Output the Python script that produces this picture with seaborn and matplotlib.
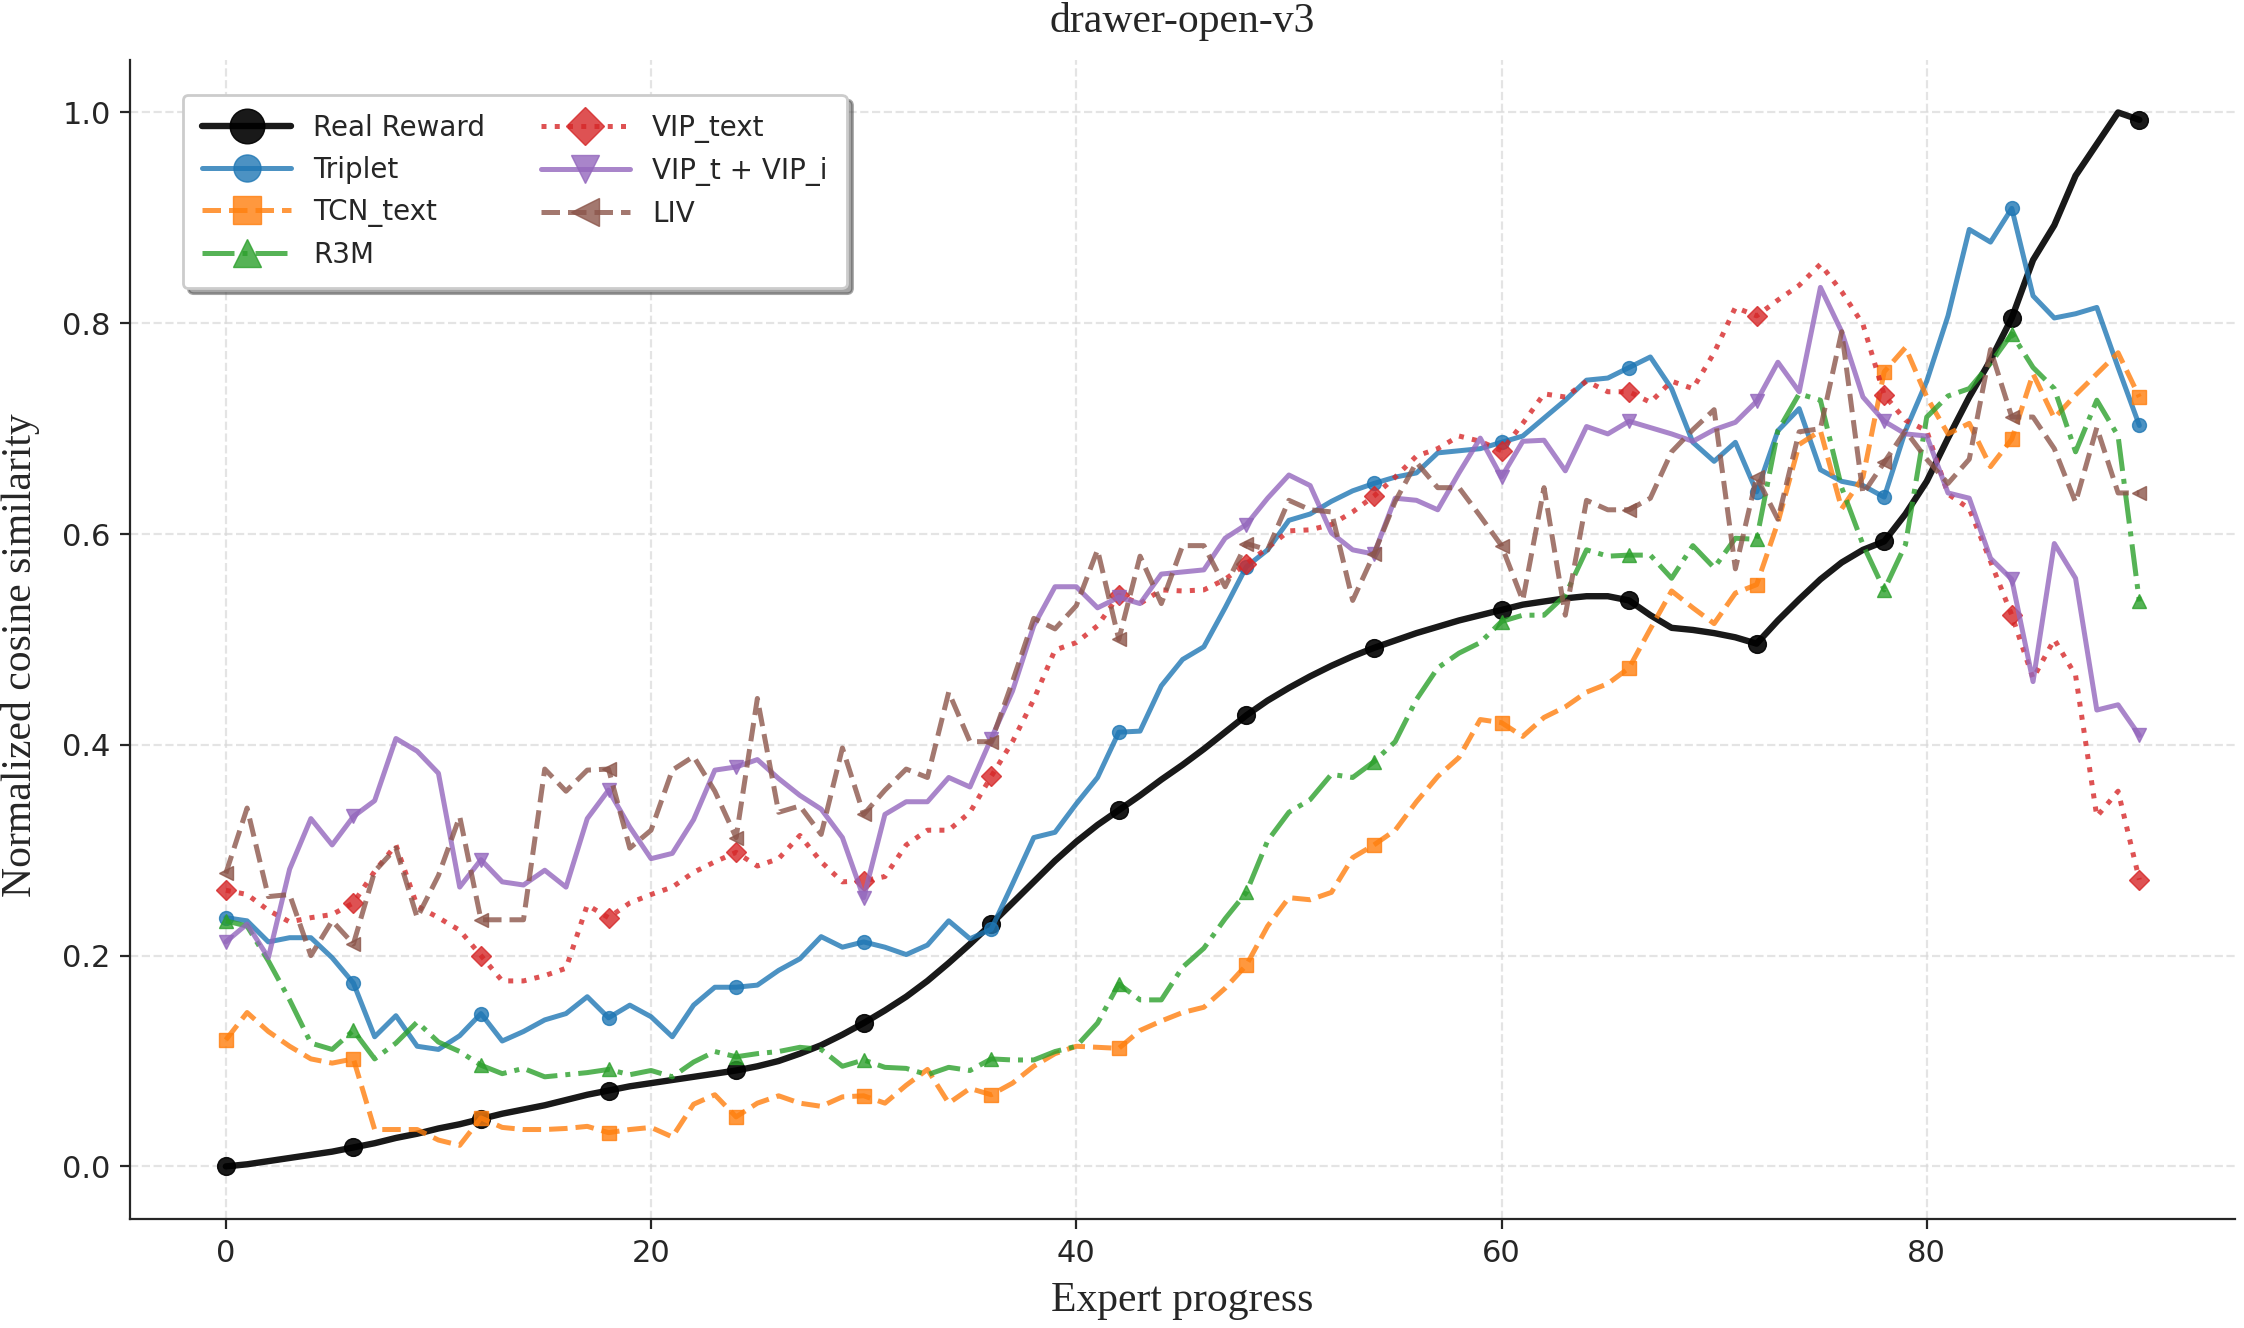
import numpy as np
import pandas as pd
import matplotlib
matplotlib.use("Agg")
import matplotlib.pyplot as plt
import seaborn as sns

# expert progress steps
progress = list(range(91))

real_reward = [
    0.000, 0.002, 0.005, 0.008, 0.011, 0.014, 0.018, 0.022, 0.027, 0.031,
    0.036, 0.040, 0.045, 0.050, 0.054, 0.058, 0.063, 0.068, 0.072, 0.076,
    0.079, 0.082, 0.085, 0.088, 0.091, 0.095, 0.100, 0.107, 0.115, 0.125,
    0.136, 0.148, 0.161, 0.176, 0.193, 0.211, 0.230, 0.250, 0.270, 0.290,
    0.308, 0.324, 0.338, 0.352, 0.367, 0.381, 0.396, 0.412, 0.428, 0.442,
    0.454, 0.465, 0.475, 0.484, 0.492, 0.499, 0.506, 0.512, 0.518, 0.523,
    0.528, 0.533, 0.536, 0.539, 0.541, 0.541, 0.537, 0.523, 0.511, 0.509,
    0.506, 0.502, 0.496, 0.518, 0.538, 0.557, 0.573, 0.585, 0.593, 0.619,
    0.650, 0.691, 0.730, 0.765, 0.805, 0.860, 0.893, 0.940, 0.970, 1.000,
    0.993,
]

triplet = [
    0.236, 0.233, 0.213, 0.217, 0.217, 0.198, 0.174, 0.123, 0.143, 0.114,
    0.111, 0.124, 0.145, 0.119, 0.128, 0.139, 0.145, 0.161, 0.141, 0.153,
    0.142, 0.123, 0.153, 0.170, 0.170, 0.172, 0.186, 0.197, 0.218, 0.208,
    0.213, 0.208, 0.201, 0.210, 0.233, 0.216, 0.225, 0.268, 0.312, 0.317,
    0.344, 0.369, 0.412, 0.413, 0.456, 0.481, 0.493, 0.530, 0.569, 0.585,
    0.613, 0.619, 0.631, 0.641, 0.648, 0.654, 0.658, 0.677, 0.679, 0.681,
    0.687, 0.693, 0.710, 0.727, 0.746, 0.748, 0.758, 0.768, 0.738, 0.687,
    0.669, 0.687, 0.640, 0.698, 0.719, 0.661, 0.650, 0.646, 0.635, 0.698,
    0.745, 0.807, 0.889, 0.877, 0.909, 0.826, 0.805, 0.809, 0.815, 0.758,
    0.703,
]

tcn_text = [
    0.120, 0.146, 0.128, 0.114, 0.102, 0.098, 0.102, 0.035, 0.035, 0.035,
    0.025, 0.020, 0.046, 0.037, 0.035, 0.035, 0.036, 0.038, 0.032, 0.035,
    0.037, 0.028, 0.059, 0.068, 0.047, 0.060, 0.067, 0.060, 0.057, 0.066,
    0.067, 0.060, 0.077, 0.092, 0.060, 0.074, 0.068, 0.079, 0.095, 0.107,
    0.114, 0.113, 0.112, 0.129, 0.138, 0.146, 0.151, 0.169, 0.191, 0.228,
    0.255, 0.253, 0.260, 0.293, 0.305, 0.319, 0.346, 0.370, 0.388, 0.424,
    0.421, 0.408, 0.426, 0.436, 0.450, 0.458, 0.473, 0.510, 0.546, 0.530,
    0.515, 0.544, 0.552, 0.611, 0.685, 0.698, 0.624, 0.654, 0.754, 0.777,
    0.730, 0.695, 0.705, 0.664, 0.690, 0.752, 0.710, 0.732, 0.752, 0.772,
    0.730,
]

r3m = [
    0.233, 0.228, 0.195, 0.158, 0.117, 0.111, 0.129, 0.102, 0.117, 0.137,
    0.118, 0.109, 0.096, 0.088, 0.093, 0.085, 0.087, 0.089, 0.092, 0.087,
    0.091, 0.085, 0.099, 0.109, 0.104, 0.107, 0.109, 0.113, 0.111, 0.095,
    0.101, 0.094, 0.093, 0.087, 0.094, 0.091, 0.102, 0.101, 0.101, 0.109,
    0.114, 0.136, 0.173, 0.158, 0.158, 0.189, 0.207, 0.235, 0.260, 0.309,
    0.336, 0.348, 0.372, 0.369, 0.384, 0.403, 0.443, 0.473, 0.487, 0.497,
    0.517, 0.523, 0.523, 0.542, 0.585, 0.579, 0.580, 0.580, 0.558, 0.589,
    0.568, 0.596, 0.595, 0.698, 0.733, 0.727, 0.644, 0.590, 0.547, 0.590,
    0.711, 0.731, 0.738, 0.762, 0.790, 0.758, 0.738, 0.678, 0.727, 0.693,
    0.536,
]

vip_text = [
    0.262, 0.258, 0.243, 0.232, 0.236, 0.239, 0.250, 0.280, 0.305, 0.247,
    0.236, 0.224, 0.200, 0.176, 0.176, 0.181, 0.188, 0.248, 0.236, 0.250,
    0.258, 0.265, 0.279, 0.289, 0.298, 0.285, 0.292, 0.314, 0.289, 0.270,
    0.271, 0.275, 0.305, 0.319, 0.319, 0.336, 0.370, 0.403, 0.443, 0.490,
    0.497, 0.513, 0.542, 0.534, 0.547, 0.546, 0.547, 0.557, 0.572, 0.587,
    0.603, 0.604, 0.609, 0.621, 0.636, 0.654, 0.674, 0.681, 0.693, 0.688,
    0.679, 0.705, 0.733, 0.730, 0.745, 0.735, 0.735, 0.725, 0.745, 0.738,
    0.772, 0.815, 0.807, 0.822, 0.836, 0.856, 0.830, 0.799, 0.732, 0.708,
    0.698, 0.638, 0.624, 0.574, 0.523, 0.463, 0.500, 0.466, 0.332, 0.356,
    0.272,
]

vip_t_vip_i = [
    0.213, 0.230, 0.198, 0.282, 0.330, 0.305, 0.332, 0.347, 0.406, 0.394,
    0.373, 0.265, 0.291, 0.270, 0.267, 0.281, 0.265, 0.330, 0.357, 0.322,
    0.292, 0.297, 0.329, 0.376, 0.379, 0.386, 0.368, 0.352, 0.339, 0.312,
    0.255, 0.334, 0.346, 0.346, 0.369, 0.360, 0.406, 0.451, 0.513, 0.550,
    0.550, 0.530, 0.540, 0.534, 0.562, 0.564, 0.566, 0.596, 0.609, 0.634,
    0.656, 0.646, 0.601, 0.585, 0.581, 0.634, 0.632, 0.623, 0.658, 0.691,
    0.654, 0.688, 0.689, 0.660, 0.702, 0.695, 0.707, 0.701, 0.695, 0.688,
    0.699, 0.706, 0.726, 0.763, 0.735, 0.834, 0.792, 0.730, 0.707, 0.695,
    0.693, 0.639, 0.634, 0.577, 0.557, 0.460, 0.591, 0.558, 0.433, 0.438,
    0.409,
]

liv = [
    0.278, 0.340, 0.256, 0.258, 0.200, 0.233, 0.211, 0.280, 0.302, 0.236,
    0.276, 0.332, 0.234, 0.234, 0.234, 0.377, 0.356, 0.376, 0.377, 0.302,
    0.319, 0.376, 0.389, 0.356, 0.312, 0.444, 0.336, 0.342, 0.315, 0.397,
    0.334, 0.357, 0.377, 0.369, 0.450, 0.403, 0.403, 0.460, 0.520, 0.510,
    0.532, 0.585, 0.500, 0.579, 0.534, 0.589, 0.589, 0.550, 0.591, 0.585,
    0.632, 0.623, 0.621, 0.537, 0.581, 0.631, 0.668, 0.644, 0.644, 0.617,
    0.589, 0.537, 0.644, 0.523, 0.632, 0.623, 0.623, 0.634, 0.678, 0.699,
    0.718, 0.567, 0.654, 0.614, 0.697, 0.700, 0.792, 0.638, 0.668, 0.698,
    0.671, 0.648, 0.671, 0.775, 0.711, 0.711, 0.681, 0.630, 0.701, 0.639,
    0.639,
]

# label, values, color, linestyle, marker
series = [
    ("Real Reward", real_reward, "black", "-", "o"),
    ("Triplet", triplet, "#1f77b4", "-", "o"),
    ("TCN_text", tcn_text, "#ff7f0e", "--", "s"),
    ("R3M", r3m, "#2ca02c", "-.", "^"),
    ("VIP_text", vip_text, "#d62728", ":", "D"),
    ("VIP_t + VIP_i", vip_t_vip_i, "#9467bd", "-", "v"),
    ("LIV", liv, "#8c564b", "--", "<"),
]


def main():
    sns.set_style("ticks")

    fig, ax = plt.subplots(figsize=(11.22, 6.64), dpi=200)
    fig.subplots_adjust(left=0.058, right=0.996, top=0.955, bottom=0.082)

    for label, vals, color, ls, mk in series:
        df = pd.DataFrame({"progress": progress, "value": vals})
        if label == "Real Reward":
            lw, ms, alpha = 2.3, 6.4, 0.9
        else:
            lw, ms, alpha = 1.8, 5.0, 0.8
        sns.lineplot(data=df, x="progress", y="value", ax=ax, color=color,
                     linestyle=ls, linewidth=lw, marker=mk, markersize=ms,
                     markevery=6, markeredgecolor=color, markeredgewidth=0.5,
                     alpha=alpha, label=label)

    ax.grid(True, linestyle="--", color="#d9d9d9", alpha=0.7, linewidth=0.8)
    sns.despine(ax=ax)

    serif = ["Liberation Serif", "DejaVu Serif"]
    ax.set_title("drawer-open-v3", fontsize=15, family=serif, pad=10)
    ax.set_xlabel("Expert progress", fontsize=15, family=serif, labelpad=5)
    ax.set_ylabel("Normalized cosine similarity", fontsize=15, family=serif)
    ax.yaxis.set_label_coords(-0.043, 0.486)
    ax.tick_params(labelsize=11)
    ax.set_xticks([0, 20, 40, 60, 80])

    ax.legend(ncol=2, loc="upper left", bbox_to_anchor=(0.025, 0.97),
              borderaxespad=0, shadow=True, markerscale=1.95, fontsize=10,
              handlelength=3.2, columnspacing=2.0, borderpad=0.7,
              framealpha=1.0)

    fig.savefig("out.png", dpi=200)


if __name__ == "__main__":
    main()
